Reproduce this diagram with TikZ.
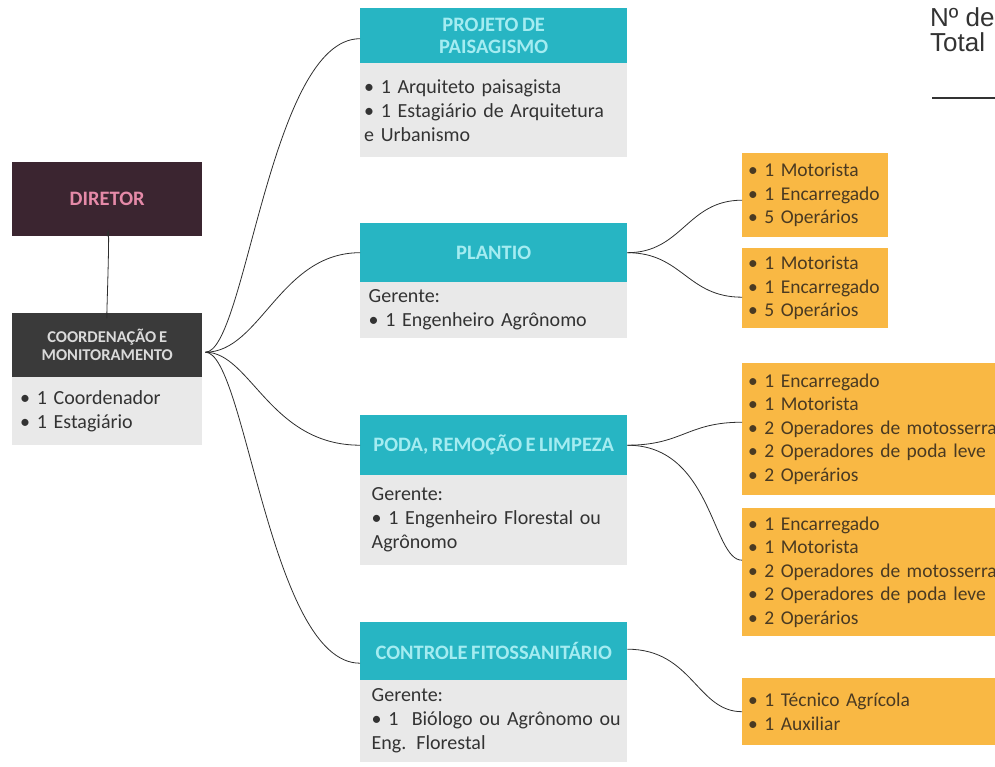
\documentclass[tikz,border=0pt]{standalone}
\usepackage{fontspec}
\setmainfont{Carlito}[WordSpace=0.75]
\newfontfamily\arialf{Liberation Sans}
\definecolor{tealh}{HTML}{27B5C3}
\definecolor{tealtxt}{HTML}{A4ECF1}
\definecolor{bodyg}{HTML}{E9E9E9}
\definecolor{bodytxt}{HTML}{333333}
\definecolor{orng}{HTML}{F9B844}
\definecolor{orngtxt}{HTML}{4A3A22}
\definecolor{dirbg}{HTML}{3B2530}
\definecolor{dirtxt}{HTML}{E58AA8}
\definecolor{coobg}{HTML}{3A3A3A}
\definecolor{cootxt}{HTML}{DADADA}
\definecolor{wire}{HTML}{2E2E2E}
\tikzset{
  hdr/.style={fill=tealh, text=tealtxt, font=\bfseries\fontsize{20.5}{22}\selectfont, align=center, inner sep=0pt, anchor=north west, minimum width=267pt},
  bodybox/.style={fill=bodyg, text=bodytxt, font=\fontsize{20}{24}\selectfont, align=left, inner ysep=0pt, anchor=north west},
  orbox/.style={fill=orng, text=orngtxt, font=\fontsize{19.5}{23.5}\selectfont, align=left, inner xsep=6pt, inner ysep=0pt, anchor=north west},
  darkbox/.style={inner sep=0pt, anchor=north west, minimum width=190pt, align=center},
  wirec/.style={draw=wire, line width=0.8pt}
}
\begin{document}
\begin{tikzpicture}[x=1pt,y=-1pt]
\useasboundingbox (0,0) rectangle (995,767);
\clip (0,0) rectangle (995,767);
% left column
\node[darkbox, fill=dirbg, text=dirtxt, font=\bfseries\fontsize{20.5}{22}\selectfont, minimum height=74pt] (dir) at (12,162) {DIRETOR};
\node[darkbox, fill=coobg, text=cootxt, font=\bfseries\fontsize{16.5}{18}\selectfont, minimum height=64pt] (co) at (12,313) {COORDENAÇÃO E\\MONITORAMENTO};
\node[bodybox, text width=174pt, inner xsep=8pt, minimum height=68pt] (cob) at (12,377) {• 1 Coordenador\\• 1 Estagiário};
% teal headers and bodies
\node[hdr, minimum height=55pt] (pj) at (360,8) {PROJETO DE\\PAISAGISMO};
\node[bodybox, text width=259pt, inner xsep=4pt, minimum height=94pt] (pjb) at (360,63) {• 1 Arquiteto paisagista\\• 1 Estagiário de Arquitetura\\e Urbanismo};
\node[hdr, minimum height=59pt] (pl) at (360,223) {PLANTIO};
\node[bodybox, text width=250pt, inner xsep=8.5pt, minimum height=56pt] (plb) at (360,282) {Gerente:\\• 1 Engenheiro Agrônomo};
\node[hdr, minimum height=60pt] (po) at (360,415) {PODA, REMOÇÃO E LIMPEZA};
\node[bodybox, text width=244pt, inner xsep=11.5pt, minimum height=90pt] (pob) at (360,475) {Gerente:\\\makebox[244pt][s]{• 1 Engenheiro Florestal ou}\\Agrônomo};
\node[hdr, minimum height=58pt] (ct) at (360,622) {CONTROLE FITOSSANITÁRIO};
\node[bodybox, text width=244pt, inner xsep=11.5pt, minimum height=82pt] (ctb) at (360,680) {Gerente:\\\makebox[244pt][s]{• 1 \ Biólogo ou Agrônomo ou}\\Eng. Florestal};
% orange boxes
\node[orbox, text width=134pt, minimum height=84pt] (o1) at (742,153) {• 1 Motorista\\• 1 Encarregado\\• 5 Operários};
\node[orbox, text width=134pt, minimum height=80pt] (o2) at (742,248) {• 1 Motorista\\• 1 Encarregado\\• 5 Operários};
\node[orbox, text width=260pt, minimum height=132pt] (o3) at (742,363) {• 1 Encarregado\\• 1 Motorista\\• 2 Operadores de motosserra\\• 2 Operadores de poda leve\\• 2 Operários};
\node[orbox, text width=260pt, minimum height=128pt] (o4) at (742,508) {• 1 Encarregado\\• 1 Motorista\\• 2 Operadores de motosserra\\• 2 Operadores de poda leve\\• 2 Operários};
\node[orbox, text width=260pt, minimum height=67pt] (o5) at (742,678) {• 1 Técnico Agrícola\\• 1 Auxiliar};
% top right note
\node[anchor=base west, inner sep=0pt, font=\arialf\fontsize{26}{28}\selectfont, text=bodytxt] (nd) at (930,27) {Nº de};
\node[anchor=base west, inner sep=0pt, font=\arialf\fontsize{26}{28}\selectfont, text=bodytxt] (tt) at (930,52) {Total};
\coordinate (ls) at (932,98);
\coordinate (le) at (1000,98);
\draw[line width=1.6pt, draw=bodytxt] (ls) -- (le);
% connectors
\coordinate (hub) at ([yshift=-7pt, xshift=3pt]co.east);
\draw[wirec] (dir.south) .. controls +(4,-35) and +(-2,35) .. (co.north);
\draw[wirec] (hub) .. controls +(40,0) and +(-90,0) .. ([yshift=-3pt]pj.west);
\draw[wirec] (hub) .. controls +(55,0) and +(-80,0) .. (pl.west);
\draw[wirec] (hub) .. controls +(45,0) and +(-90,0) .. (po.west);
\draw[wirec] (hub) .. controls +(40,0) and +(-90,0) .. ([yshift=-12pt]ct.west);
\draw[wirec] (pl.east) .. controls +(55,0) and +(-55,0) .. ([yshift=-5pt]o1.west);
\draw[wirec] (pl.east) .. controls +(55,0) and +(-55,0) .. ([yshift=-9pt]o2.west);
\draw[wirec] (po.east) .. controls +(55,0) and +(-55,0) .. ([yshift=7pt]o3.west);
\draw[wirec] (po.east) .. controls +(85,0) and +(-30,0) .. ([yshift=12pt]o4.west);
\draw[wirec] ([yshift=2pt]ct.east) .. controls +(65,0) and +(-45,0) .. (o5.west);
\end{tikzpicture}
\end{document}
